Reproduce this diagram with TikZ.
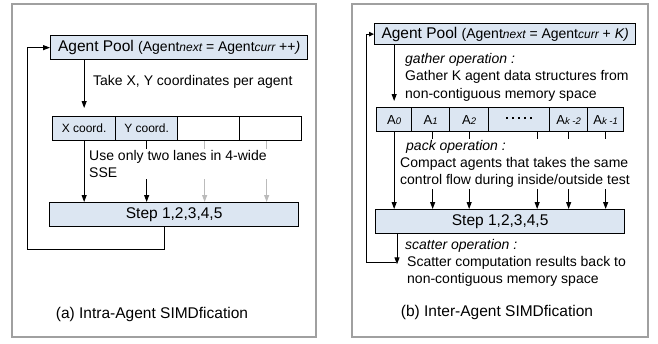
\documentclass[tikz,border=0pt]{standalone}
\usepackage{fontspec}
\setmainfont{Liberation Sans}
\usetikzlibrary{arrows.meta,calc}
\definecolor{boxblue}{HTML}{DCE6F2}
\definecolor{framegray}{HTML}{A0A0A0}
\definecolor{lanegray}{HTML}{BBBBBB}
\newcommand{\fbig}{\fontsize{15.5}{18}\selectfont}
\newcommand{\fmid}{\fontsize{14}{17}\selectfont}
\newcommand{\fcell}{\fontsize{12}{14}\selectfont}
\newcommand{\itsub}[1]{{\fontsize{12}{14}\selectfont\itshape #1}}
\newcommand{\cellsub}[1]{{\fontsize{9.5}{11}\selectfont\itshape #1}}
\newcommand{\sqd}{\rule[3.5pt]{2.6pt}{2.6pt}}
\tikzset{
  panel/.style={draw=framegray, line width=1.7pt},
  bluebox/.style={draw=black, fill=boxblue, line width=1.3pt, inner sep=0pt, anchor=north west},
  lanebox/.style={draw=black, line width=1.3pt, inner sep=0pt, minimum height=24pt, anchor=north west, font=\fcell},
  conn/.style={line width=1pt, -{Triangle[length=7pt,width=5pt]}},
  smallconn/.style={line width=1pt, -{Triangle[length=5pt,width=4.5pt]}},
  txt/.style={font=\fmid, inner sep=1pt, anchor=west},
  para/.style={txt, align=left, font=\fontsize{14}{17.5}\selectfont},
}
\begin{document}
\begin{tikzpicture}[x=1pt,y=-1pt]
\useasboundingbox (0,0) rectangle (658,343);
\fill[white] (0,0) rectangle (658,343);

% ---------- panel frames ----------
\draw[panel] (12,4) rectangle (316,337);
\draw[panel] (352,4) rectangle (648,337);

% ================= (a) Intra-Agent =================
\node[bluebox, minimum width=257pt, minimum height=24pt] (poolA) at (50,35)
  {\fbig Agent Pool {\fmid (Agent\itsub{next} = Agent\itsub{curr} ++\textit{)}}};

\node[lanebox, fill=boxblue, minimum width=63pt] (la1) at (52,116) {X coord.};
\node[lanebox, fill=boxblue, minimum width=62pt] (la2) at (115,116) {Y coord.};
\node[lanebox, minimum width=62pt] (la3) at (177,116) {};
\node[lanebox, minimum width=62pt] (la4) at (239,116) {};

\node[bluebox, minimum width=249pt, minimum height=24pt, font=\fbig] (stepA) at (49,202) {Step 1,2,3,4,5};

\draw[conn] (poolA.south -| la1.north) -- ([yshift=8pt]la1.north);
\draw[conn] (la1.south) -- (la1.south |- stepA.north);
\draw[conn] (la2.south) -- (la2.south |- stepA.north);
\draw[conn, color=lanegray] ([xshift=-4pt]la3.south) -- ([xshift=-4pt]la3.south |- stepA.north);
\draw[conn, color=lanegray] ([xshift=-4pt]la4.south) -- ([xshift=-4pt]la4.south |- stepA.north);

\node[txt] (takeA) at (92,82) {Take X, Y coordinates per agent};
\node[para, fill=white] (useA) at (88,164) {Use only two lanes in 4-wide\\SSE};

\coordinate (fbA) at (27,249);
\draw[conn] ($(stepA.south west)+(115,0)$) |- (fbA) |- (poolA.west);

\node[font=\fbig] (capA) at (152,314) {(a) Intra-Agent SIMDfication};

% ================= (b) Inter-Agent =================
\node[bluebox, minimum width=261pt, minimum height=21pt] (poolB) at (374,23)
  {\fbig Agent Pool {\fmid (Agent\itsub{next} = Agent\itsub{curr} + \textit{K)}}};

\node[lanebox, fill=boxblue, minimum width=35pt] (lb1) at (376,107) {{\fontsize{13}{14}\selectfont A}\cellsub{0}};
\node[lanebox, fill=boxblue, minimum width=38pt] (lb2) at (411,107) {{\fontsize{13}{14}\selectfont A}\cellsub{1}};
\node[lanebox, fill=boxblue, minimum width=39pt] (lb3) at (449,107) {{\fontsize{13}{14}\selectfont A}\cellsub{2}};
\node[lanebox, fill=boxblue, minimum width=61pt] (lb4) at (488,107) {\sqd\hspace{3.4pt}\sqd\hspace{3.4pt}\sqd\hspace{3.4pt}\sqd\hspace{3.4pt}\sqd};
\node[lanebox, fill=boxblue, minimum width=38pt] (lb5) at (549,107) {{\fontsize{13}{14}\selectfont A}\cellsub{k -2}};
\node[lanebox, fill=boxblue, minimum width=36pt] (lb6) at (587,107) {{\fontsize{13}{14}\selectfont A}\cellsub{k -1}};

\node[bluebox, minimum width=249pt, minimum height=24pt, font=\fbig] (stepB) at (375,209) {Step 1,2,3,4,5};

\draw[conn] (poolB.south -| lb1.north) -- ([yshift=6pt]lb1.north);
\draw[conn] (lb1.south) -- (lb1.south |- stepB.north);
\draw[conn] ([xshift=2pt]lb2.south) -- ([xshift=2pt]lb2.south |- stepB.north);
\draw[conn] (lb3.south) -- (lb3.south |- stepB.north);
\draw[conn] ([xshift=18pt]lb4.south) -- ([xshift=18pt]lb4.south |- stepB.north);
\draw[conn] (lb5.south) -- (lb5.south |- stepB.north);
\draw[conn] (lb6.south) -- (lb6.south |- stepB.north);

\node[para] (gatherB) at (404,77)
  {\textit{gather operation :}\\Gather K agent data structures from\\non-contiguous memory space};
\node[para, fill=white, align=left, font=\fontsize{14}{17}\selectfont] (packB) at (399,164)
  {\hspace{6pt}\textit{pack operation :}\\Compact agents that takes the same\\control flow during inside/outside test};

\coordinate (scB) at (396,262);
\coordinate (fbB) at (366,262);
\draw[conn] ($(stepB.south west)+(22,0)$) -- ++(0,30);
\draw[smallconn] (scB) -- (fbB) |- (poolB.west);

\node[para, font=\fontsize{14}{17}\selectfont] (scatB) at (404,263)
  {\textit{scatter operation :}\\\hspace{2pt}Scatter computation results back to\\\hspace{2pt}non-contiguous memory space};

\node[font=\fbig] (capB) at (497,312) {(b) Inter-Agent SIMDfication};
\end{tikzpicture}
\end{document}
